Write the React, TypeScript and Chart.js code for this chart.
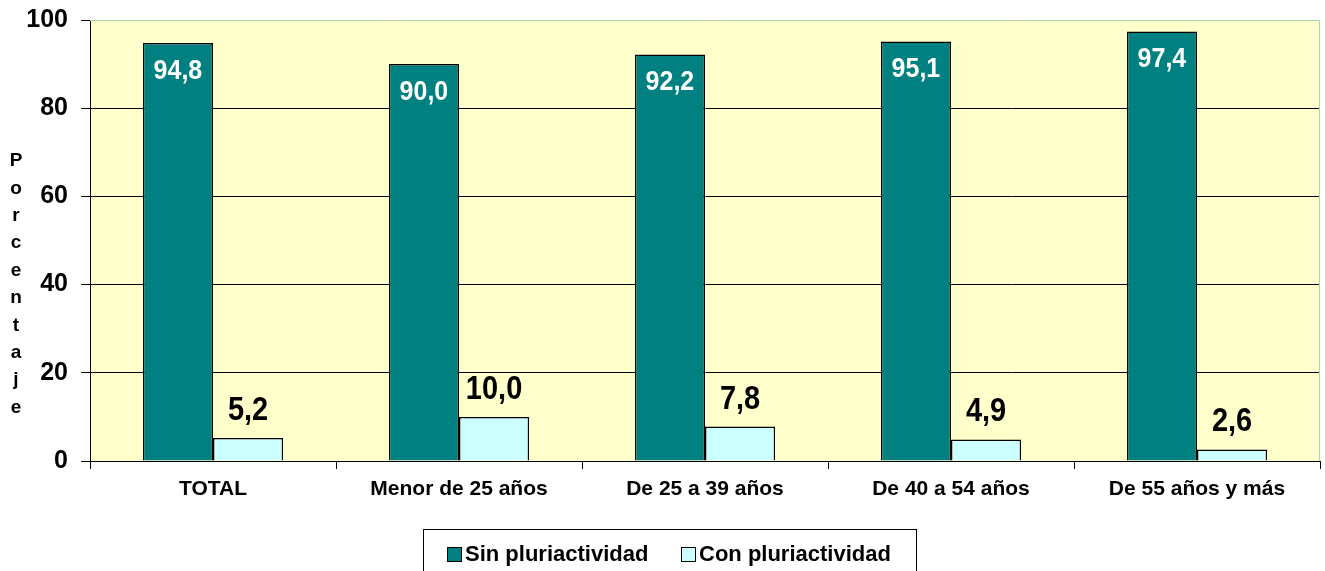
import React, { useEffect, useRef } from "react";
import { Chart, registerables } from "chart.js";

Chart.register(...registerables);

const categories = ["TOTAL", "Menor de 25 años", "De 25 a 39 años", "De 40 a 54 años", "De 55 años y más"];
const sinPluri = [94.8, 90.0, 92.2, 95.1, 97.4];
const conPluri = [5.2, 10.0, 7.8, 4.9, 2.6];
const seriesNames = ["Sin pluriactividad", "Con pluriactividad"];
const axisTitle = "Porcentaje";

const FONT = '"Liberation Sans", Arial, sans-serif';
const TEAL = "#008080";
const CYAN = "#CCFFFF";

const fmt = (v: number) => v.toFixed(1).replace(".", ",");

const stretchText = (ctx: any, text: string, x: number, y: number, sy: number) => {
  ctx.save();
  ctx.translate(x, y);
  ctx.scale(1, sy);
  ctx.fillText(text, 0, 0);
  ctx.restore();
};

const decorPlugin = {
  id: "decor",
  beforeDraw(chart: any) {
    const { ctx, chartArea } = chart;
    ctx.save();
    ctx.fillStyle = "#FFFFCC";
    ctx.fillRect(chartArea.left, chartArea.top, chartArea.right - chartArea.left, chartArea.bottom - chartArea.top);
    ctx.restore();
  },
  afterDatasetsDraw(chart: any) {
    const { ctx, chartArea } = chart;
    ctx.save();
    ctx.strokeStyle = "#A8D8A8";
    ctx.lineWidth = 1;
    ctx.beginPath();
    ctx.moveTo(chartArea.left, chartArea.top + 0.5);
    ctx.lineTo(chartArea.right - 0.5, chartArea.top + 0.5);
    ctx.lineTo(chartArea.right - 0.5, chartArea.bottom);
    ctx.stroke();

    const m0 = chart.getDatasetMeta(0);
    const m1 = chart.getDatasetMeta(1);
    ctx.textAlign = "center";
    ctx.textBaseline = "middle";
    ctx.font = `bold 25px ${FONT}`;
    ctx.fillStyle = "#FFFFFF";
    m0.data.forEach((el: any, i: number) => {
      stretchText(ctx, fmt(sinPluri[i]), el.x, el.y + 28, 1.12);
    });
    ctx.font = `bold 29px ${FONT}`;
    ctx.fillStyle = "#000000";
    m1.data.forEach((el: any, i: number) => {
      stretchText(ctx, fmt(conPluri[i]), el.x, el.y - 27, 1.12);
    });

    ctx.font = `bold 19px ${FONT}`;
    ctx.fillStyle = "#000000";
    const letters = axisTitle.split("");
    letters.forEach((ch, i) => {
      ctx.fillText(ch, 16, 161 + i * 27.4);
    });

    const bx = 423, by = 529, bw = 493, bh = 50;
    ctx.strokeStyle = "#000000";
    ctx.lineWidth = 1;
    ctx.fillStyle = "#FFFFFF";
    ctx.fillRect(bx + 0.5, by + 0.5, bw, bh);
    ctx.strokeRect(bx + 0.5, by + 0.5, bw, bh);
    ctx.font = `bold 22px ${FONT}`;
    ctx.textAlign = "left";
    const items = [
      { x: 447, color: TEAL, label: seriesNames[0] },
      { x: 681, color: CYAN, label: seriesNames[1] },
    ];
    items.forEach((it) => {
      ctx.fillStyle = it.color;
      ctx.fillRect(it.x + 0.5, 547.5, 14, 14);
      ctx.strokeStyle = "#000000";
      ctx.strokeRect(it.x + 0.5, 547.5, 14, 14);
      ctx.fillStyle = "#000000";
      ctx.fillText(it.label, it.x + 18, 555);
    });
    ctx.restore();
  },
};

export default function App() {
  const ref = useRef<HTMLCanvasElement | null>(null);
  useEffect(() => {
    if (!ref.current) return;
    const chart = new Chart(ref.current, {
      type: "bar",
      data: {
        labels: categories,
        datasets: [
          {
            label: seriesNames[0],
            data: sinPluri,
            backgroundColor: TEAL,
            borderColor: "#000000",
            borderWidth: 1.5,
            categoryPercentage: 0.57,
            barPercentage: 1,
          },
          {
            label: seriesNames[1],
            data: conPluri,
            backgroundColor: CYAN,
            borderColor: "#000000",
            borderWidth: 1.5,
            categoryPercentage: 0.57,
            barPercentage: 1,
          },
        ],
      },
      options: {
        animation: false,
        responsive: true,
        maintainAspectRatio: false,
        layout: { padding: { top: 20, right: 5, left: 0, bottom: 0 } },
        plugins: { legend: { display: false }, tooltip: { enabled: false } },
        scales: {
          x: {
            afterFit(scale: any) {
              scale.height = 110;
              scale.paddingLeft = 0;
              scale.paddingRight = 0;
            },
            grid: {
              display: true,
              drawOnChartArea: false,
              drawTicks: true,
              tickLength: 8,
              color: "#000000",
              offset: true,
            },
            border: { color: "#000000", width: 1 },
            ticks: {
              color: "#000000",
              font: { family: FONT, size: 21, weight: "bold" },
              padding: 8,
              maxRotation: 0,
              autoSkip: false,
            },
          },
          y: {
            min: 0,
            max: 100,
            afterFit(scale: any) {
              scale.width = 90;
              scale.paddingTop = 0;
              scale.paddingBottom = 0;
            },
            grid: {
              color: (c: any) => (c.tick && c.tick.value === 100 ? "rgba(0,0,0,0)" : "#000000"),
              tickColor: "#000000",
              tickLength: 9,
              drawTicks: true,
            },
            border: { color: "#000000", width: 1 },
            ticks: {
              stepSize: 20,
              color: "#000000",
              font: { family: FONT, size: 25, weight: "bold" },
              padding: 13,
            },
          },
        },
      },
      plugins: [decorPlugin],
    });
    return () => chart.destroy();
  }, []);
  return (
    <div style={{ position: "absolute", left: 0, top: 0, width: 1325, height: 571, background: "#FFFFFF" }}>
      <canvas ref={ref} />
    </div>
  );
}
